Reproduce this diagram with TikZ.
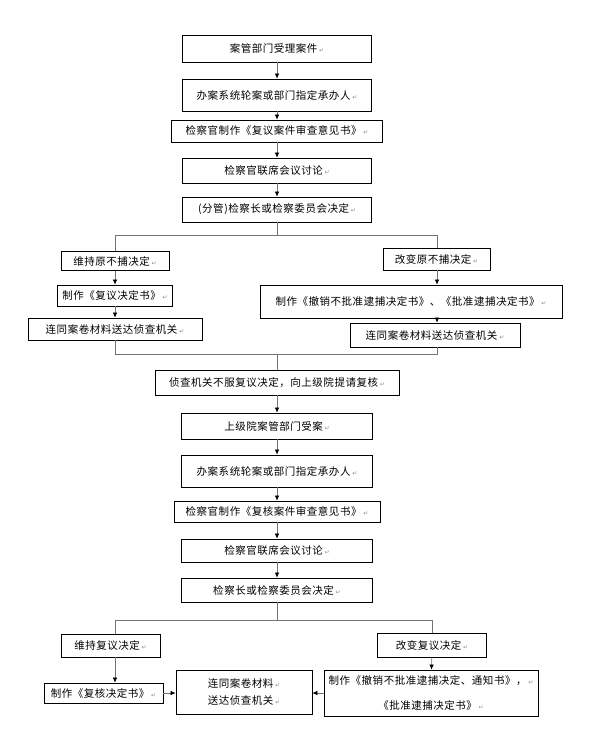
\documentclass[tikz,border=0pt]{standalone}
\usepackage{fontspec}
\usepackage{tikz}
\usetikzlibrary{arrows.meta,calc,positioning}
\newfontfamily\cjk[LetterSpace=5]{Noto Sans CJK SC}
\newfontfamily\markfont{DejaVu Sans}
\newcommand\pmk{\,{\markfont\fontsize{6}{6}\selectfont\textcolor{black!45}{↵}}}

\begin{document}
\begin{tikzpicture}
[
	          x = 1pt,
	          y = -1pt,
	         >= {Latex[length=5pt,width=4.5pt,color=black]},
	  box/.style = { draw=black, line width=0.8pt, inner sep=0pt, align=center, font=\cjk\fontsize{10.5}{14}\selectfont },
	 wire/.style = { draw=black!55, line width=0.6pt },
	 link/.style = { wire, -> }
]
	\fill [white] (0,0) rectangle (590,751);
	\useasboundingbox (0,0) rectangle (590,751);

	\node (10) at (277,48.5)  [box, minimum width=189pt, minimum height=27pt] {案管部门受理案件\pmk};
	\node (11) at (277,95)    [box, minimum width=189pt, minimum height=32pt] {办案系统轮案或部门指定承办人\pmk};
	\node (12) at (277,131)   [box, minimum width=211pt, minimum height=22pt] {检察官制作《复议案件审查意见书》\pmk};
	\node (13) at (277,170.5) [box, minimum width=189pt, minimum height=25pt] {检察官联席会议讨论\pmk};
	\node (14) at (277,209.5) [box, minimum width=189pt, minimum height=25pt] {(分管)检察长或检察委员会决定\pmk};

	\node (20) at (115,261)   [box, minimum width=108pt, minimum height=19pt] {维持原不捕决定\pmk};
	\node (21) at (115,295.5) [box, minimum width=115pt, minimum height=21pt] {制作《复议决定书》\pmk};
	\node (22) at (115,329)   [box, minimum width=174pt, minimum height=22pt] {连同案卷材料送达侦查机关\pmk};

	\node (30) at (436.5,259) [box, minimum width=107pt, minimum height=22pt] {改变原不捕决定\pmk};
	\node (31) at (411,301.5) [box, minimum width=302pt, minimum height=33pt] {制作《撤销不批准逮捕决定书》、《批准逮捕决定书》\pmk};
	\node (32) at (435,335)   [box, minimum width=170pt, minimum height=24pt] {连同案卷材料送达侦查机关\pmk};

	\node (40) at (277,382.5) [box, minimum width=244pt, minimum height=25pt] {侦查机关不服复议决定，向上级院提请复核\pmk};
	\node (41) at (277,426)   [box, minimum width=191pt, minimum height=26pt] {上级院案管部门受案\pmk};
	\node (42) at (277,471)   [box, minimum width=191pt, minimum height=32pt] {办案系统轮案或部门指定承办人\pmk};
	\node (43) at (277,511.5) [box, minimum width=206pt, minimum height=21pt] {检察官制作《复核案件审查意见书》\pmk};
	\node (44) at (277,550.5) [box, minimum width=191pt, minimum height=23pt] {检察官联席会议讨论\pmk};
	\node (45) at (277,590)   [box, minimum width=191pt, minimum height=24pt] {检察长或检察委员会决定\pmk};

	\node (50) at (110.5,645.5) [box, minimum width=99pt, minimum height=23pt] {维持复议决定\pmk};
	\node (51) at (432,645)     [box, minimum width=109pt, minimum height=24pt] {改变复议决定\pmk};
	\node (52) at (103.5,693)   [box, minimum width=119pt, minimum height=20pt] {制作《复核决定书》\pmk};
	\node (53) at (244,692)     [box, minimum width=136pt, minimum height=44pt] {连同案卷材料\pmk\\[3pt]送达侦查机关\pmk};
	\node (54) at (431,693)     [box, minimum width=214pt, minimum height=46pt] {制作《撤销不批准逮捕决定、通知书》，\pmk\\[11pt]《批准逮捕决定书》\pmk};

	\coordinate (s1) at (277,235);
	\coordinate (l1) at (115,235);
	\coordinate (r1) at (437,235);
	\coordinate (s2) at (277,354);
	\coordinate (l2) at (115,354);
	\coordinate (r2) at (437,354);
	\coordinate (s3) at (277,620);
	\coordinate (l3) at (115,620);
	\coordinate (r3) at (432,620);

	\draw [link] (10) -- (11);
	\draw [link] (11) -- (12);
	\draw [link] (12) -- (13);
	\draw [link] (13) -- (14);

	\draw [wire] (14) -- (s1);
	\draw [wire] (l1) -- (r1);
	\draw [wire] (l1) -- (20);
	\draw [wire] (r1) -- (r1 |- 30.north);
	\draw [link] (20) -- (21);
	\draw [link] (21) -- (22);
	\draw [link] (30.south -| r1) -- (r1 |- 31.north);
	\draw [link] (31.south -| r1) -- (r1 |- 32.north);

	\draw [wire] (22) -- (l2) -- (r2) -- (r2 |- 32.south);
	\draw [wire] (s2) -- (40);

	\draw [link] (40) -- (41);
	\draw [link] (41) -- (42);
	\draw [link] (42) -- (43);
	\draw [link] (43) -- (44);
	\draw [link] (44) -- (45);

	\draw [wire] (45) -- (s3);
	\draw [wire] (l3) -- (r3);
	\draw [wire] (l3) -- (l3 |- 50.north);
	\draw [wire] (r3) -- (51);
	\draw [link] (50.south -| l3) -- (l3 |- 52.north);
	\draw [link] (51) -- (54);
	\draw [link] (52.east) -- (52.east -| 53.west);
	\draw [link] (54.west) -- (54.west -| 53.east);

\end{tikzpicture}
\end{document}
